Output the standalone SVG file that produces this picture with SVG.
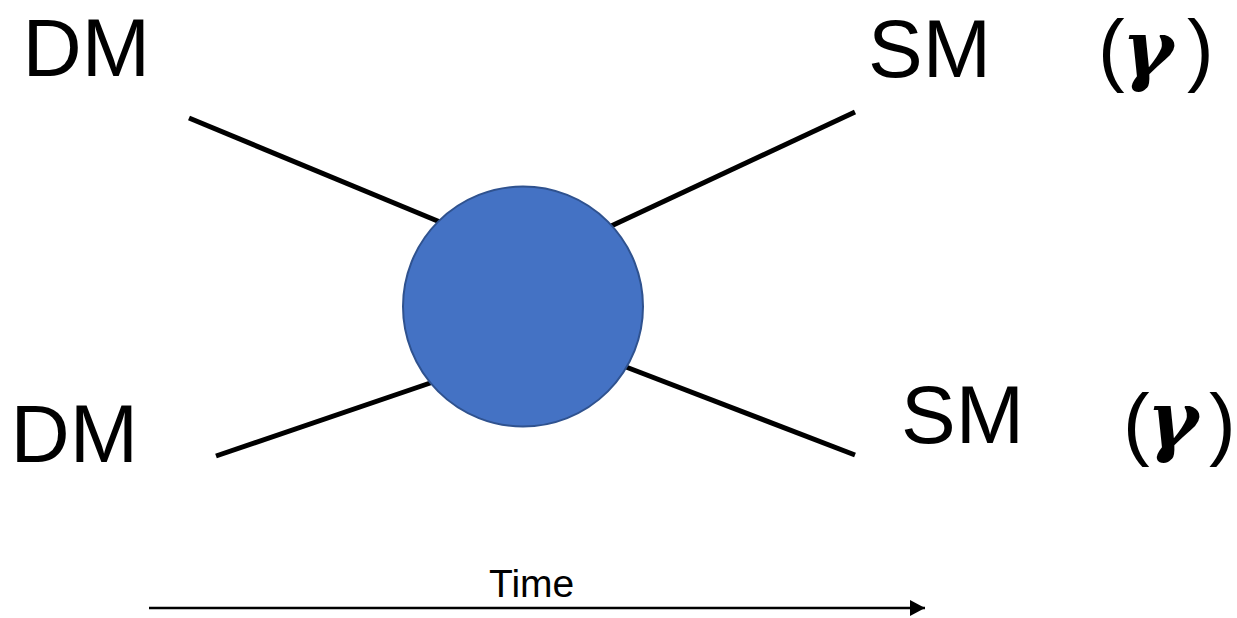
<svg xmlns="http://www.w3.org/2000/svg" width="1237" height="618" viewBox="0 0 1237 618">
<defs>
<style>
.lbl{font-family:"Liberation Sans",Arial,sans-serif;font-size:82px;fill:#000}
.par{font-family:"Liberation Sans",Arial,sans-serif;font-size:80px;fill:#000}
.gam{font-family:"DejaVu Serif","Liberation Serif",serif;font-size:78px;font-weight:bold;font-style:italic;fill:#000}
.leg{stroke:#000;stroke-width:5;fill:none}
.time{font-family:"Liberation Sans",Arial,sans-serif;font-size:39px;fill:#000}
</style>
<marker id="ah" markerWidth="15" markerHeight="16" refX="15" refY="8" orient="auto" markerUnits="userSpaceOnUse">
<path d="M0,0 L15,8 L0,16 Z" fill="#000"/>
</marker>
</defs>
<rect width="1237" height="618" fill="#fff"/>
<g id="connectors">
<line class="leg" x1="189" y1="118" x2="440" y2="222"/>
<line class="leg" x1="855" y1="112" x2="609" y2="227"/>
<line class="leg" x1="216" y1="456" x2="439" y2="380"/>
<line class="leg" x1="855" y1="455" x2="626" y2="367"/>
<line x1="149" y1="608" x2="925" y2="608" stroke="#000" stroke-width="2.5" marker-end="url(#ah)"/>
</g>
<g id="vertex">
<circle cx="523" cy="306.5" r="120" fill="#4472C4" stroke="#2F528F" stroke-width="2"/>
</g>
<g id="dm-top"><text class="lbl" x="22.5" y="76">DM</text></g>
<g id="dm-bottom"><text class="lbl" x="10.5" y="462">DM</text></g>
<g id="sm-top"><text class="lbl" x="868" y="77">SM</text></g>
<g id="sm-bottom"><text class="lbl" x="901" y="443">SM</text></g>
<g id="gamma-top">
<text class="par" x="1098" y="76">(</text>
<text class="gam" x="1122" y="76">γ</text>
<text class="par" x="1187" y="76">)</text>
</g>
<g id="gamma-bottom">
<text class="par" x="1123" y="450">(</text>
<text class="gam" x="1147" y="447">γ</text>
<text class="par" x="1209" y="450">)</text>
</g>
<g id="time"><text class="time" x="489" y="597">Time</text></g>
</svg>
